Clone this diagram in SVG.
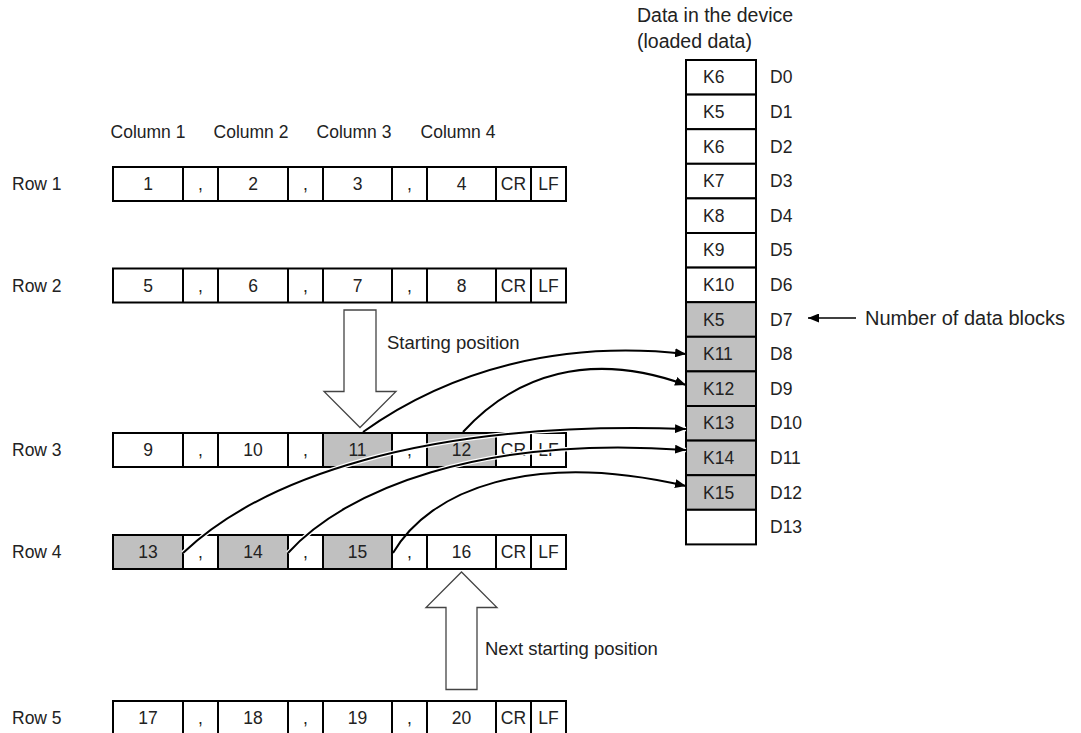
<svg xmlns="http://www.w3.org/2000/svg" width="1081" height="733" viewBox="0 0 1081 733">
<defs>
<style>
text{font-family:"Liberation Sans",Arial,sans-serif;fill:#222;}
.t{font-size:17.5px;}
.c{font-size:17.5px;text-anchor:middle;}
.big{font-size:18.5px;}
.head{font-size:19.5px;}
.box{fill:none;stroke:#000;stroke-width:2;}
.div{stroke:#000;stroke-width:2;}
.g{fill:#c0c0c0;}
.cell{fill:#fff;stroke:#000;stroke-width:2;}
.cellg{fill:#c0c0c0;stroke:#000;stroke-width:2;}
.halo{fill:none;stroke:#fff;stroke-width:4.5;}
.cur{fill:none;stroke:#000;stroke-width:2;}
.blk{fill:#fff;stroke:#444;stroke-width:1.3;}
</style>
<marker id="ah" markerUnits="userSpaceOnUse" markerWidth="11" markerHeight="9" refX="11" refY="4.5" orient="auto">
<path d="M0,0 L11,4.5 L0,9 z" fill="#000"/>
</marker>
</defs>
<rect width="1081" height="733" fill="#fff"/>

<g id="column-headers">
<text class="c" x="148" y="138">Column 1</text>
<text class="c" x="251" y="138">Column 2</text>
<text class="c" x="354" y="138">Column 3</text>
<text class="c" x="458" y="138">Column 4</text>
</g>

<g id="row1">
<text class="t" x="12" y="190">Row 1</text>
<path class="div" d="M183,167V201M218,167V201M288,167V201M323,167V201M392,167V201M427,167V201M496,167V201M531,167V201"/>
<rect class="box" x="113" y="167" width="453" height="34"/>
<text class="c" x="148" y="190">1</text><text class="c" x="200.5" y="190">,</text>
<text class="c" x="253" y="190">2</text><text class="c" x="305.5" y="190">,</text>
<text class="c" x="357.5" y="190">3</text><text class="c" x="409.5" y="190">,</text>
<text class="c" x="461.5" y="190">4</text><text class="c" x="513.5" y="190">CR</text>
<text class="c" x="548.5" y="190">LF</text>
</g>

<g id="row2">
<text class="t" x="12" y="291.5">Row 2</text>
<path class="div" d="M183,268.5V302.5M218,268.5V302.5M288,268.5V302.5M323,268.5V302.5M392,268.5V302.5M427,268.5V302.5M496,268.5V302.5M531,268.5V302.5"/>
<rect class="box" x="113" y="268.5" width="453" height="34"/>
<text class="c" x="148" y="291.5">5</text><text class="c" x="200.5" y="291.5">,</text>
<text class="c" x="253" y="291.5">6</text><text class="c" x="305.5" y="291.5">,</text>
<text class="c" x="357.5" y="291.5">7</text><text class="c" x="409.5" y="291.5">,</text>
<text class="c" x="461.5" y="291.5">8</text><text class="c" x="513.5" y="291.5">CR</text>
<text class="c" x="548.5" y="291.5">LF</text>
</g>

<g id="row3">
<text class="t" x="12" y="456">Row 3</text>
<rect class="g" x="323" y="433" width="69" height="34"/>
<rect class="g" x="427" y="433" width="69" height="34"/>
<path class="div" d="M183,433V467M218,433V467M288,433V467M323,433V467M392,433V467M427,433V467M496,433V467M531,433V467"/>
<rect class="box" x="113" y="433" width="453" height="34"/>
<text class="c" x="148" y="456">9</text><text class="c" x="200.5" y="456">,</text>
<text class="c" x="253" y="456">10</text><text class="c" x="305.5" y="456">,</text>
<text class="c" x="357.5" y="456">11</text><text class="c" x="409.5" y="456">,</text>
<text class="c" x="461.5" y="456">12</text><text class="c" x="513.5" y="456">CR</text>
<text class="c" x="548.5" y="456">LF</text>
</g>

<g id="row4">
<text class="t" x="12" y="558">Row 4</text>
<rect class="g" x="113" y="535" width="70" height="34"/>
<rect class="g" x="218" y="535" width="70" height="34"/>
<rect class="g" x="323" y="535" width="69" height="34"/>
<path class="div" d="M183,535V569M218,535V569M288,535V569M323,535V569M392,535V569M427,535V569M496,535V569M531,535V569"/>
<rect class="box" x="113" y="535" width="453" height="34"/>
<text class="c" x="148" y="558">13</text><text class="c" x="200.5" y="558">,</text>
<text class="c" x="253" y="558">14</text><text class="c" x="305.5" y="558">,</text>
<text class="c" x="357.5" y="558">15</text><text class="c" x="409.5" y="558">,</text>
<text class="c" x="461.5" y="558">16</text><text class="c" x="513.5" y="558">CR</text>
<text class="c" x="548.5" y="558">LF</text>
</g>

<g id="row5">
<text class="t" x="12" y="724">Row 5</text>
<path class="div" d="M183,701V735M218,701V735M288,701V735M323,701V735M392,701V735M427,701V735M496,701V735M531,701V735"/>
<rect class="box" x="113" y="701" width="453" height="34"/>
<text class="c" x="148" y="724">17</text><text class="c" x="200.5" y="724">,</text>
<text class="c" x="253" y="724">18</text><text class="c" x="305.5" y="724">,</text>
<text class="c" x="357.5" y="724">19</text><text class="c" x="409.5" y="724">,</text>
<text class="c" x="461.5" y="724">20</text><text class="c" x="513.5" y="724">CR</text>
<text class="c" x="548.5" y="724">LF</text>
</g>

<g id="device">
<text class="head" x="637" y="22">Data in the device</text>
<text class="head" x="637" y="48">(loaded data)</text>
<rect class="cell" x="686" y="60" width="70" height="34.6"/>
<rect class="cell" x="686" y="94.6" width="70" height="34.6"/>
<rect class="cell" x="686" y="129.2" width="70" height="34.6"/>
<rect class="cell" x="686" y="163.8" width="70" height="34.6"/>
<rect class="cell" x="686" y="198.4" width="70" height="34.6"/>
<rect class="cell" x="686" y="233" width="70" height="34.6"/>
<rect class="cell" x="686" y="267.6" width="70" height="34.6"/>
<rect class="cellg" x="686" y="302.2" width="70" height="34.6"/>
<rect class="cellg" x="686" y="336.8" width="70" height="34.6"/>
<rect class="cellg" x="686" y="371.4" width="70" height="34.6"/>
<rect class="cellg" x="686" y="406" width="70" height="34.6"/>
<rect class="cellg" x="686" y="440.6" width="70" height="34.6"/>
<rect class="cellg" x="686" y="475.2" width="70" height="34.6"/>
<rect class="cell" x="686" y="509.8" width="70" height="34.6"/>
<text class="t" x="703" y="83.3">K6</text><text class="t" x="770" y="83.3">D0</text>
<text class="t" x="703" y="117.9">K5</text><text class="t" x="770" y="117.9">D1</text>
<text class="t" x="703" y="152.5">K6</text><text class="t" x="770" y="152.5">D2</text>
<text class="t" x="703" y="187.1">K7</text><text class="t" x="770" y="187.1">D3</text>
<text class="t" x="703" y="221.7">K8</text><text class="t" x="770" y="221.7">D4</text>
<text class="t" x="703" y="256.3">K9</text><text class="t" x="770" y="256.3">D5</text>
<text class="t" x="703" y="290.9">K10</text><text class="t" x="770" y="290.9">D6</text>
<text class="t" x="703" y="325.5">K5</text><text class="t" x="770" y="325.5">D7</text>
<text class="t" x="703" y="360.1">K11</text><text class="t" x="770" y="360.1">D8</text>
<text class="t" x="703" y="394.7">K12</text><text class="t" x="770" y="394.7">D9</text>
<text class="t" x="703" y="429.3">K13</text><text class="t" x="770" y="429.3">D10</text>
<text class="t" x="703" y="463.9">K14</text><text class="t" x="770" y="463.9">D11</text>
<text class="t" x="703" y="498.5">K15</text><text class="t" x="770" y="498.5">D12</text>
<text class="t" x="770" y="533.1">D13</text>
</g>

<g id="start-arrow">
<path class="blk" d="M344,310 H376 V391.5 H396 L360,427.5 L324,391.5 H344 Z"/>
<text class="big" x="387" y="349">Starting position</text>
</g>

<g id="next-start-arrow">
<path class="blk" d="M446,689.5 H477 V607.5 H497 L461.5,572 L426,607.5 H446 Z"/>
<text class="big" x="485" y="655">Next starting position</text>
</g>

<g id="data-blocks-label">
<line x1="856" y1="318" x2="808" y2="318" stroke="#000" stroke-width="1.5" marker-end="url(#ah)"/>
<text x="865" y="325" style="font-size:20px">Number of data blocks</text>
</g>

<g id="connectors">
<path class="halo" d="M183,553 C260,480 420,420 686,429"/>
<path class="halo" d="M288,553 C345,490 480,435 686,450"/>
<path class="cur" d="M363,432 C450,370 560,340 686,354" marker-end="url(#ah)"/>
<path class="cur" d="M463,432 C515,375 590,350 686,385" marker-end="url(#ah)"/>
<path class="cur" d="M183,553 C260,480 420,420 686,429" marker-end="url(#ah)"/>
<path class="cur" d="M288,553 C345,490 480,435 686,450" marker-end="url(#ah)"/>
<path class="cur" d="M393,553 C430,490 530,450 686,486" marker-end="url(#ah)"/>
</g>
</svg>
